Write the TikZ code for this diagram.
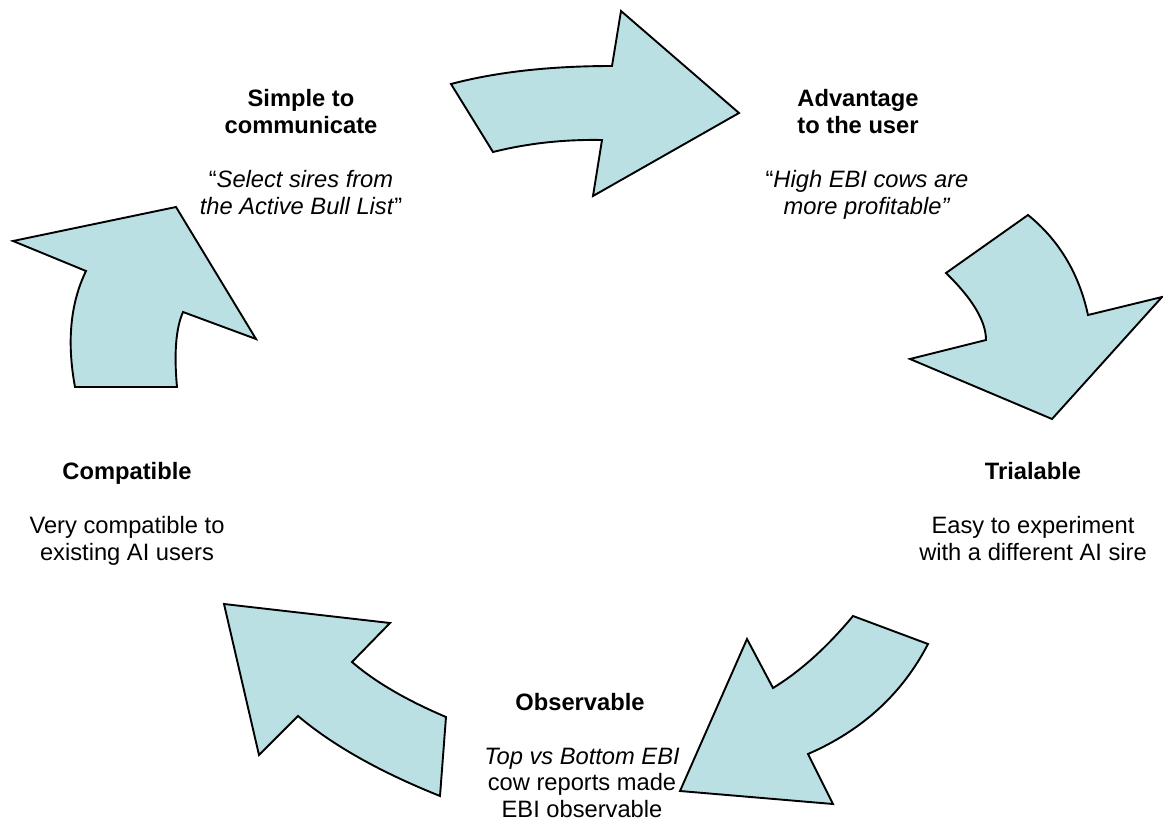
\documentclass[tikz,border=0pt]{standalone}
\usepackage{fontspec}
\setmainfont{Liberation Sans}
\definecolor{arrowfill}{RGB}{187,224,227}
\begin{document}
\begin{tikzpicture}[x=1pt,y=-1pt,
  cyc/.style={draw=black,fill=arrowfill,line width=1.9pt,line join=miter},
  lbl/.style={align=center,inner sep=0pt,anchor=base,font=\fontsize{23.7}{26.5}\selectfont},
  ttl/.style={lbl,font=\fontsize{23.7}{26.5}\selectfont\bfseries}]
\useasboundingbox (0,0) rectangle (1163,822);
% arrow top
\draw[cyc] (451,84) .. controls (496.3,72) and (550,66) .. (612,66) -- (621,11) -- (739,113) -- (593,196) -- (602,140) .. controls (564,139.3) and (527.7,143.3) .. (493,152) -- cycle;
% arrow right
\draw[cyc] (1028,215) -- (946,273) .. controls (972.7,299) and (986,321.3) .. (986,340) -- (910,359) -- (1052,419) -- (1162,297) -- (1088,315) .. controls (1079,273.5) and (1059,240.1) .. (1028,215) -- cycle;
% arrow bottom right
\draw[cyc] (853,616) -- (928,644) .. controls (902.3,693.7) and (862.3,730.4) .. (808,754) -- (833,804) -- (680,791) -- (747,639) -- (773,688) .. controls (800.3,671.3) and (827,647.3) .. (853,616) -- cycle;
% arrow bottom left
\draw[cyc] (224,604) -- (390,623) -- (352,662) .. controls (375.1,681.9) and (406.4,700.2) .. (446,717) -- (440,796) .. controls (380.3,772.1) and (333,745.5) .. (298,716) -- (259,755) -- cycle;
% arrow left
\draw[cyc] (176,207) -- (13,241) -- (86,271) .. controls (70.3,303.4) and (66.7,342) .. (75,387) -- (177,387) .. controls (173.9,353.1) and (175.9,328.1) .. (183,312) -- (256,339) -- cycle;
% texts (anchor = baseline of last line)
\node[ttl] (t1) at (301,133) {Simple to\\communicate};
\node[lbl] (b1) at (301,214) {“\textit{Select sires from}\\\textit{the Active Bull List}”};
\node[ttl] (t2) at (858,133) {Advantage\\to the user};
\node[lbl] (b2) at (867,214) {“\textit{High EBI cows are}\\\textit{more profitable”}};
\node[ttl] (t3) at (1033,479) {Trialable};
\node[lbl] (b3) at (1033,560) {Easy to experiment\\with a different AI sire};
\node[ttl] (t4) at (580,710) {Observable};
\node[lbl] (b4) at (582,817) {\textit{Top vs Bottom EBI}\\cow reports made\\EBI observable};
\node[ttl] (t5) at (127,479) {Compatible};
\node[lbl] (b5) at (127,560) {Very compatible to\\existing AI users};
\end{tikzpicture}
\end{document}
